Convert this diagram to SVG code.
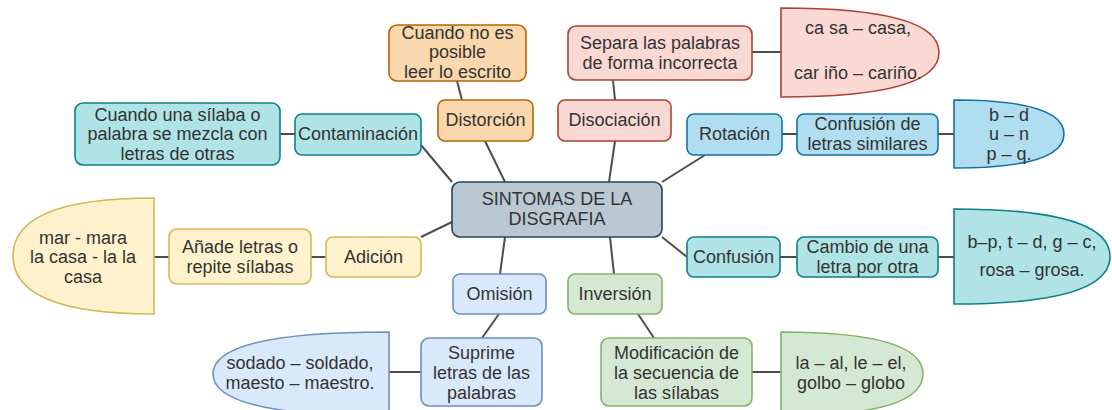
<svg xmlns="http://www.w3.org/2000/svg" width="1112" height="410" viewBox="0 0 1112 410">
<style>
text{font-family:"Liberation Sans",Arial,sans-serif;font-size:18px;fill:#333;text-anchor:middle;dominant-baseline:central}
.n{stroke-width:1.6}
.or{fill:#fad7ac;stroke:#b46504}
.rd{fill:#fad9d5;stroke:#ae4132}
.tl{fill:#b0e3e6;stroke:#0e8088}
.bl{fill:#b1ddf0;stroke:#10739e}
.yl{fill:#fff2cc;stroke:#d6b656}
.lb{fill:#dae8fc;stroke:#6c8ebf}
.gr{fill:#d5e8d4;stroke:#82b366}
.ct{fill:#bac8d3;stroke:#23445d}
#connectors line{stroke:#4d4d4d;stroke-width:2}
</style>
<rect width="1112" height="410" fill="#fff"/>
<g id="connectors">
<line x1="457" y1="81" x2="462" y2="100"/>
<line x1="485" y1="141" x2="505" y2="182"/>
<line x1="280" y1="134" x2="295" y2="134"/>
<line x1="421" y1="145" x2="452" y2="182"/>
<line x1="613" y1="80" x2="615" y2="100"/>
<line x1="752" y1="52" x2="781" y2="52"/>
<line x1="615" y1="141" x2="609" y2="182"/>
<line x1="782" y1="134" x2="797" y2="134"/>
<line x1="938" y1="134" x2="954" y2="134"/>
<line x1="705" y1="155" x2="662" y2="182"/>
<line x1="154" y1="257" x2="169" y2="257"/>
<line x1="311" y1="257" x2="326" y2="257"/>
<line x1="421" y1="237" x2="452" y2="222"/>
<line x1="505" y1="237" x2="500" y2="274"/>
<line x1="499" y1="314" x2="482" y2="338"/>
<line x1="389" y1="372" x2="421" y2="372"/>
<line x1="610" y1="237" x2="614" y2="274"/>
<line x1="638" y1="314" x2="654" y2="338"/>
<line x1="752" y1="372" x2="781" y2="372"/>
<line x1="662" y1="237" x2="687" y2="257"/>
<line x1="780" y1="257" x2="797" y2="257"/>
<line x1="938" y1="257" x2="954" y2="257"/>
</g>
<g id="center"><rect class="n ct" x="452" y="182" width="210" height="55" rx="8"/><text x="557" y="199">SINTOMAS DE LA</text><text x="557" y="219">DISGRAFIA</text></g>
<g id="distorcion"><rect class="n or" x="438" y="100" width="95" height="41" rx="7"/><text x="485.5" y="120">Distorción</text></g>
<g id="distorcion_desc"><rect class="n or" x="389" y="25" width="137" height="56" rx="8"/><text x="457.5" y="33">Cuando no es</text><text x="457.5" y="52">posible</text><text x="457.5" y="72">leer lo escrito</text></g>
<g id="disociacion"><rect class="n rd" x="558" y="100" width="113" height="41" rx="7"/><text x="614.5" y="120">Disociación</text></g>
<g id="disociacion_desc"><rect class="n rd" x="568" y="26" width="184" height="54" rx="8"/><text x="660" y="43">Separa las palabras</text><text x="660" y="63">de forma incorrecta</text></g>
<g id="disociacion_ej"><path class="n rd" d="M781,8 Q939,8 939,52.5 Q939,97 781,97 Z"/><text x="858" y="28">ca sa – casa,</text><text x="858" y="73">car iño – cariño.</text></g>
<g id="contaminacion"><rect class="n tl" x="295" y="114" width="126" height="41" rx="7"/><text x="358" y="134">Contaminación</text></g>
<g id="contaminacion_desc"><rect class="n tl" x="75" y="103" width="205" height="62" rx="8"/><text x="177.5" y="115">Cuando una sílaba o</text><text x="177.5" y="134">palabra se mezcla con</text><text x="177.5" y="154">letras de otras</text></g>
<g id="rotacion"><rect class="n bl" x="687" y="114" width="95" height="41" rx="7"/><text x="734.5" y="134">Rotación</text></g>
<g id="rotacion_desc"><rect class="n bl" x="797" y="114" width="141" height="41" rx="7"/><text x="867.5" y="124">Confusión de</text><text x="867.5" y="144">letras similares</text></g>
<g id="rotacion_ej"><path class="n bl" d="M954,100 Q1064,100 1064,134 Q1064,168 954,168 Z"/><text x="1009" y="115">b – d</text><text x="1009" y="134">u – n</text><text x="1009" y="154">p – q.</text></g>
<g id="adicion"><rect class="n yl" x="326" y="237" width="95" height="40" rx="7"/><text x="373.5" y="257">Adición</text></g>
<g id="adicion_desc"><rect class="n yl" x="169" y="229" width="142" height="55" rx="8"/><text x="240" y="247">Añade letras o</text><text x="240" y="267">repite sílabas</text></g>
<g id="adicion_ej"><path class="n yl" d="M154,198 Q13,198 13,256 Q13,314 154,314 Z"/><text x="83" y="238">mar - mara</text><text x="83" y="257">la casa - la la</text><text x="83" y="277">casa</text></g>
<g id="confusion"><rect class="n tl" x="687" y="237" width="93" height="40" rx="7"/><text x="733.5" y="257">Confusión</text></g>
<g id="confusion_desc"><rect class="n tl" x="797" y="237" width="141" height="40" rx="7"/><text x="867.5" y="247">Cambio de una</text><text x="867.5" y="267">letra por otra</text></g>
<g id="confusion_ej"><path class="n tl" d="M954,209 Q1110,209 1110,256.5 Q1110,304 954,304 Z"/><text x="1032" y="242">b–p, t – d, g – c,</text><text x="1032" y="270">rosa – grosa.</text></g>
<g id="omision"><rect class="n lb" x="453" y="274" width="93" height="40" rx="7"/><text x="499.5" y="294">Omisión</text></g>
<g id="omision_desc"><rect class="n lb" x="421" y="338" width="121" height="68" rx="8"/><text x="481.5" y="353">Suprime</text><text x="481.5" y="373">letras de las</text><text x="481.5" y="393">palabras</text></g>
<g id="omision_ej"><path class="n lb" d="M389,332 Q213,332 213,374 Q213,416 389,416 Z"/><text x="300" y="363">sodado – soldado,</text><text x="300" y="383">maesto – maestro.</text></g>
<g id="inversion"><rect class="n gr" x="568" y="274" width="94" height="40" rx="7"/><text x="615" y="294">Inversión</text></g>
<g id="inversion_desc"><rect class="n gr" x="601" y="338" width="151" height="68" rx="8"/><text x="676.5" y="353">Modificación de</text><text x="676.5" y="373">la secuencia de</text><text x="676.5" y="393">las sílabas</text></g>
<g id="inversion_ej"><path class="n gr" d="M781,332 Q923,332 923,374 Q923,416 781,416 Z"/><text x="851" y="363">la – al, le – el,</text><text x="851" y="383">golbo – globo</text></g>
</svg>
